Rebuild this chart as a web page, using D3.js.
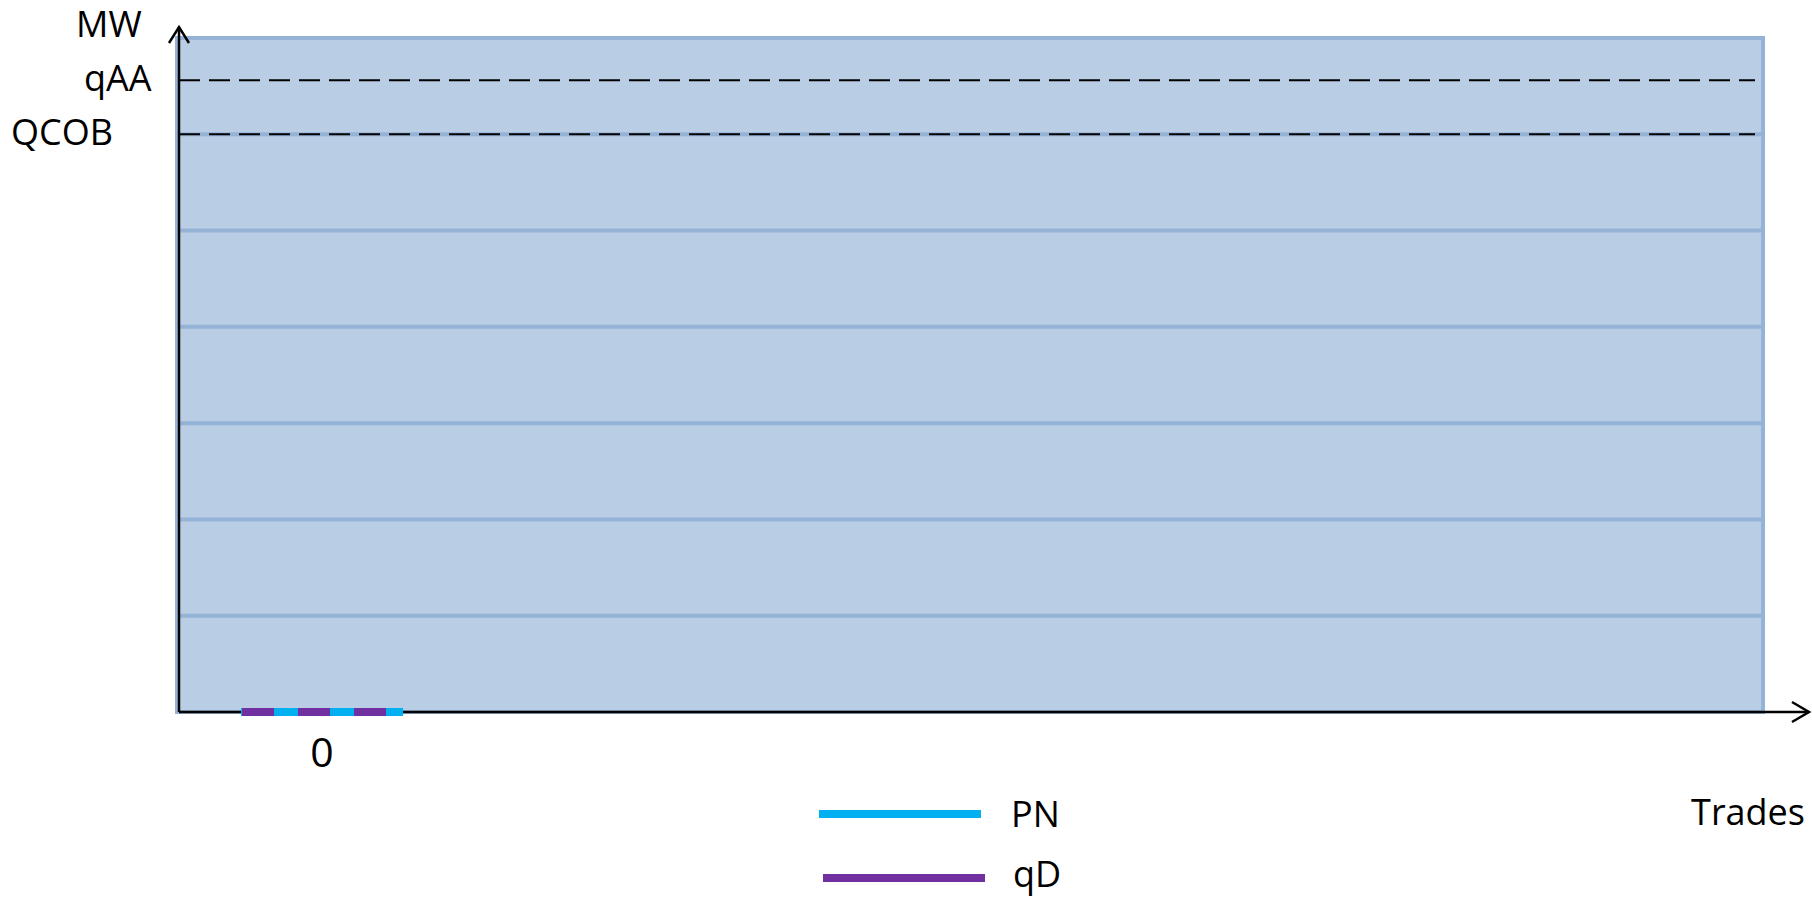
<!DOCTYPE html>
<html>
<head>
<meta charset="utf-8">
<script src="https://cdn.jsdelivr.net/npm/d3@7"></script>
<style>
  body { margin: 0; background: #fff; }
  text { font-family: "Open Sans", sans-serif; fill: #000; }
</style>
</head>
<body>
<div class="chart"></div>
<script>
// chart data
const trades = [0];           // trade index on the x axis
const tradeLabels = ["0"];
const pnValues = [0];         // PN (MW) per trade
const qdValues = [0];         // qD (MW) per trade
const gridValues = [1, 2, 3, 4, 5, 6];
const yMax = 7;
const refNames = ["qAA", "QCOB"];
const refValues = [6.56, 6];
const xDomain = [-0.883, 8.895];

const width = 1812, height = 897;

let svg = d3.select(".chart").append("svg")
    .attr("width", width)
    .attr("height", height)

let x = d3.scaleLinear().domain(xDomain).range([179, 1763])
let y = d3.scaleLinear().domain([0, yMax]).range([712, 38])

// ===== plot background =====
svg.append("rect")
    .attr("x", x(xDomain[0]) - 2)
    .attr("y", y(yMax))
    .attr("width", x(xDomain[1]) - x(xDomain[0]) + 2)
    .attr("height", y(0) - y(yMax))
    .attr("fill", "#b9cde5")
    .attr("stroke", "#95b3d7")
    .attr("stroke-width", 4)

svg.selectAll(".grid").data(gridValues).enter().append("line")
    .attr("class", "grid")
    .attr("x1", x(xDomain[0]))
    .attr("x2", x(xDomain[1]) - 2)
    .attr("y1", d => y(d))
    .attr("y2", d => y(d))
    .attr("stroke", "#95b3d7")
    .attr("stroke-width", 4)

// ===== reference levels =====
svg.selectAll(".ref").data(refValues).enter().append("line")
    .attr("class", "ref")
    .attr("x1", x(xDomain[0]))
    .attr("x2", x(xDomain[1]) - 8)
    .attr("y1", d => y(d))
    .attr("y2", d => y(d))
    .attr("stroke", "#000")
    .attr("stroke-width", 2)
    .attr("stroke-dasharray", "21,9")

svg.selectAll(".refLabel").data(refValues).enter().append("text")
    .attr("class", "refLabel")
    .attr("x", (d, i) => i == 0 ? 84 : 11)
    .attr("y", d => y(d) + 11)
    .style("font-size", "36px")
    .text((d, i) => refNames[i])

// ===== axes with arrows =====
svg.append("line")
    .attr("x1", 179).attr("x2", 179)
    .attr("y1", y(0)).attr("y2", 27)
    .attr("stroke", "#000").attr("stroke-width", 2.5)
svg.append("path")
    .attr("d", "M169,43 L179,27 L189,43")
    .attr("fill", "none").attr("stroke", "#000").attr("stroke-width", 2.5)

svg.append("line")
    .attr("x1", 179).attr("x2", 1809)
    .attr("y1", y(0)).attr("y2", y(0))
    .attr("stroke", "#000").attr("stroke-width", 2.5)
svg.append("path")
    .attr("d", "M1792,702 L1809," + y(0) + " L1792,722")
    .attr("fill", "none").attr("stroke", "#000").attr("stroke-width", 2.5)

svg.append("text").attr("x", 76).attr("y", 37)
    .style("font-size", "36px").text("MW")
svg.append("text").attr("x", 1805).attr("y", 825)
    .attr("text-anchor", "end")
    .style("font-size", "36px").text("Trades")

// ===== series =====
svg.selectAll(".pn").data(trades).enter().append("line")
    .attr("class", "pn")
    .attr("x1", d => x(d - 0.5))
    .attr("x2", d => x(d + 0.5))
    .attr("y1", (d, i) => y(pnValues[i]))
    .attr("y2", (d, i) => y(pnValues[i]))
    .attr("stroke", "#00b0f0")
    .attr("stroke-width", 8)

svg.selectAll(".qd").data(trades).enter().append("line")
    .attr("class", "qd")
    .attr("x1", d => x(d - 0.5) + 1)
    .attr("x2", d => x(d + 0.5))
    .attr("y1", (d, i) => y(qdValues[i]))
    .attr("y2", (d, i) => y(qdValues[i]))
    .attr("stroke", "#7030a0")
    .attr("stroke-width", 8)
    .attr("stroke-dasharray", "32,24")

svg.selectAll(".tick").data(trades).enter().append("text")
    .attr("class", "tick")
    .attr("x", d => x(d))
    .attr("y", 767)
    .attr("text-anchor", "middle")
    .style("font-size", "41px")
    .text((d, i) => tradeLabels[i])

// ===== legend =====
const legend = [
    { name: "PN", color: "#00b0f0", x1: 819, y: 814, tx: 1011, ty: 827 },
    { name: "qD", color: "#7030a0", x1: 823, y: 878, tx: 1013, ty: 887 }
];
legend.forEach(function (l) {
    svg.append("line")
        .attr("x1", l.x1).attr("x2", l.x1 + 162)
        .attr("y1", l.y).attr("y2", l.y)
        .attr("stroke", l.color).attr("stroke-width", 8)
    svg.append("text").attr("x", l.tx).attr("y", l.ty)
        .style("font-size", "36px").text(l.name)
})
</script>
</body>
</html>
